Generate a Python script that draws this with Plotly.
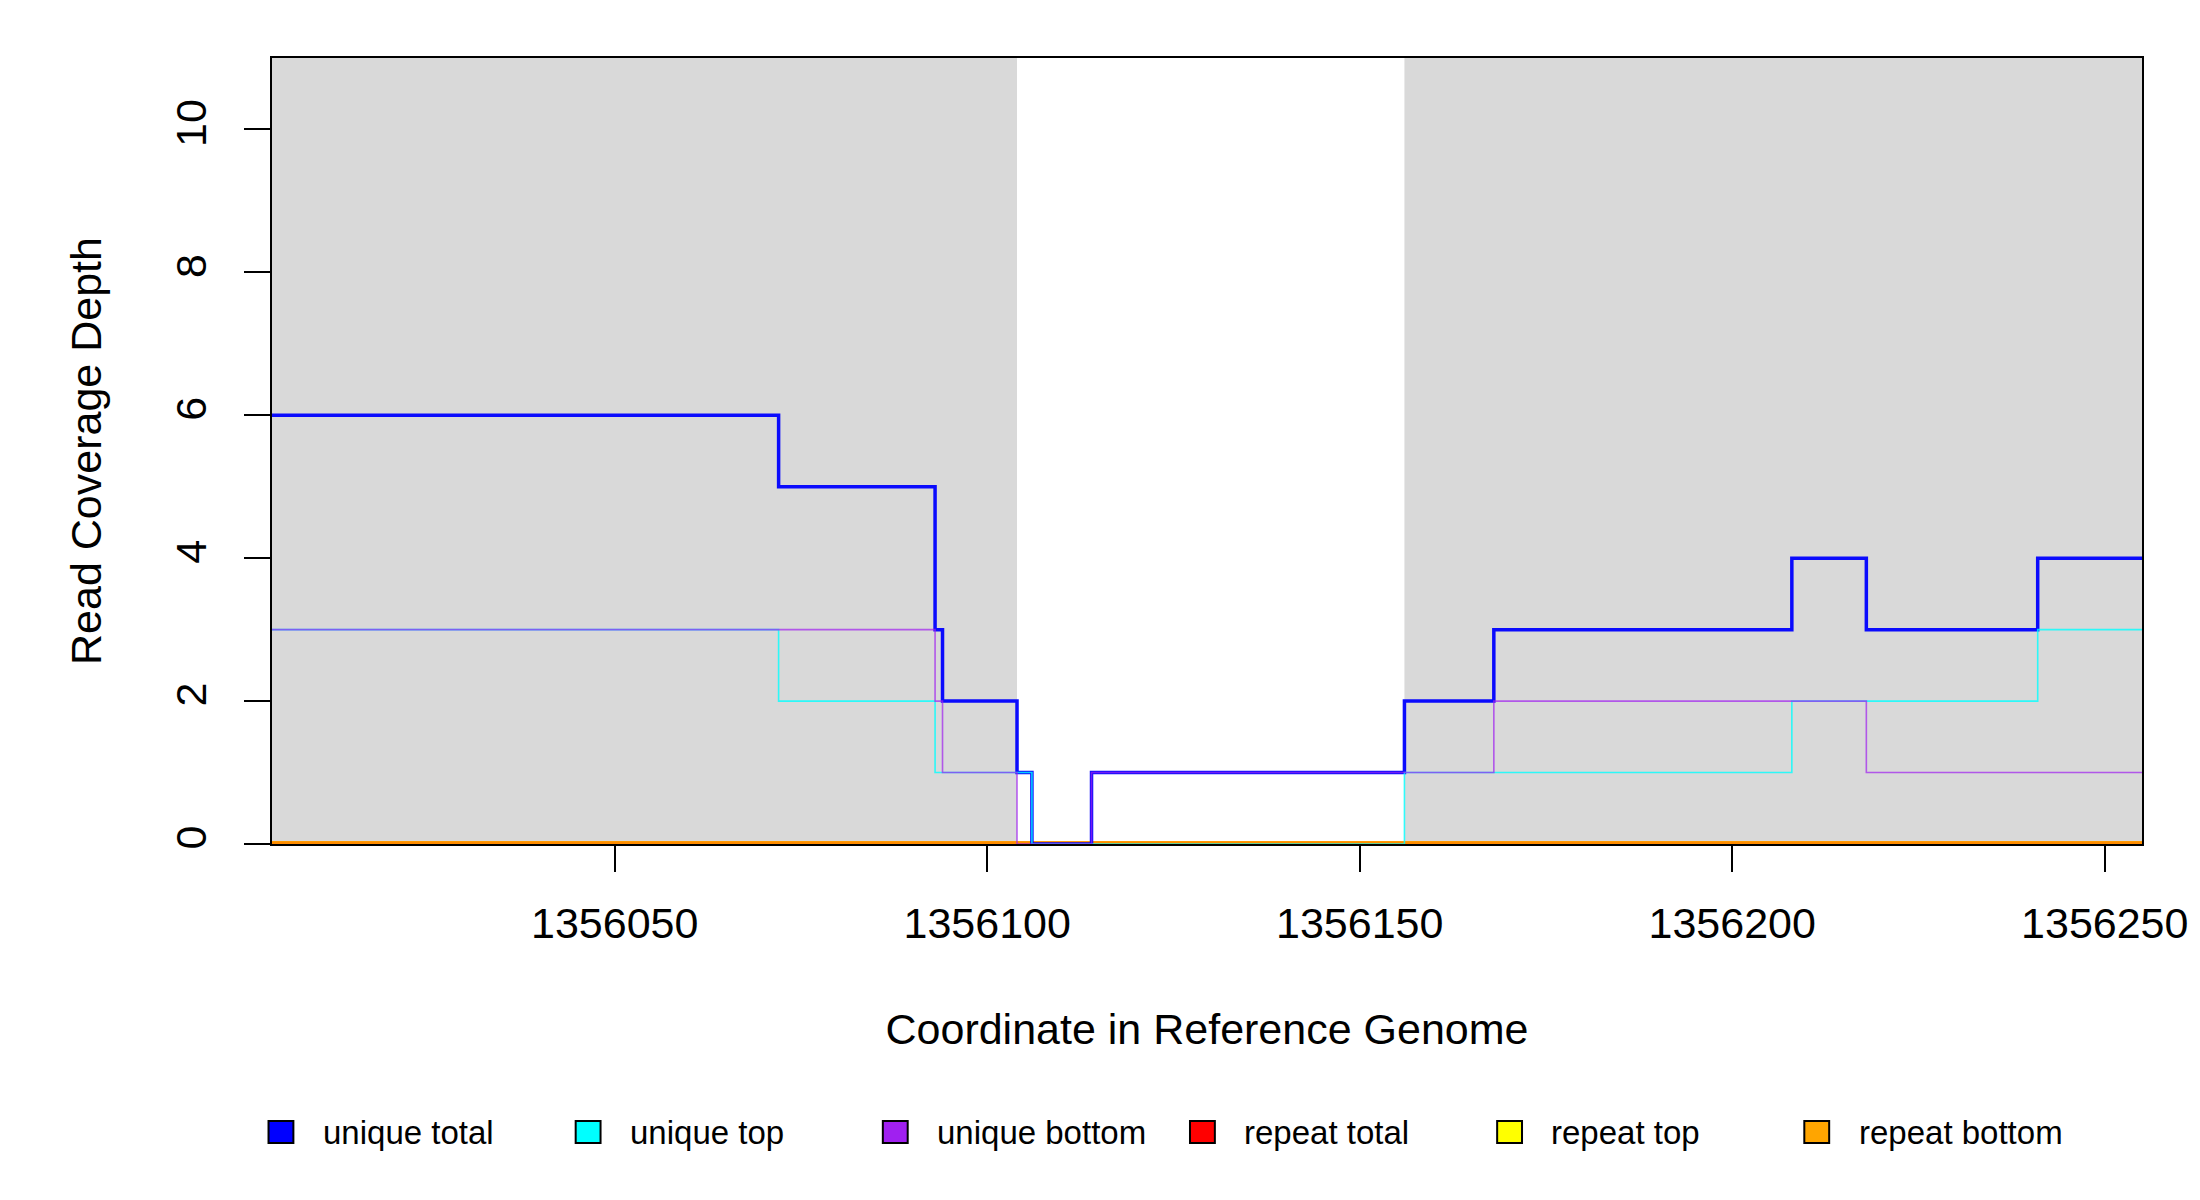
import plotly.graph_objects as go

# coverage steps (position where value starts, value); last point closes the range
pos_unique_total = [1356004, 1356072, 1356093, 1356094, 1356104, 1356106, 1356114,
                    1356156, 1356168, 1356208, 1356218, 1356241, 1356255]
unique_total = [6, 5, 3, 2, 1, 0, 1, 2, 3, 4, 3, 4, 4]

pos_unique_top = [1356004, 1356072, 1356093, 1356106, 1356156, 1356208, 1356241, 1356255]
unique_top = [3, 2, 1, 0, 1, 2, 3, 3]

pos_unique_bottom = [1356004, 1356093, 1356094, 1356104, 1356114, 1356168, 1356218, 1356255]
unique_bottom = [3, 2, 1, 0, 1, 2, 1, 1]

pos_repeat = [1356004, 1356255]
repeat_total = [0, 0]
repeat_top = [0, 0]
repeat_bottom = [0, 0]

# shaded (gray) regions
shade_starts = [1356004, 1356156]
shade_ends = [1356104, 1356255]

x_range = [1356004, 1356255]
y_range = [0, 11]
x_ticks = [1356050, 1356100, 1356150, 1356200, 1356250]
y_ticks = [0, 2, 4, 6, 8, 10]

names = ["unique total", "unique top", "unique bottom", "repeat total", "repeat top", "repeat bottom"]
colors = ["#0000FF", "#00FFFF", "#A020F0", "#FF0000", "#FFFF00", "#FFA500"]
line_colors = ["rgba(0,0,255,0.95)", "rgba(0,255,255,0.8)", "rgba(160,32,240,0.7)",
               "rgba(255,0,0,0.9)", "rgba(255,255,0,0.9)", "rgba(255,140,0,1)"]
widths = [3.5, 1.6, 1.6, 5.5, 5.5, 5.5]

series = [
    (pos_unique_total, unique_total),
    (pos_unique_top, unique_top),
    (pos_unique_bottom, unique_bottom),
    (pos_repeat, repeat_total),
    (pos_repeat, repeat_top),
    (pos_repeat, repeat_bottom),
]

FONT = "Liberation Sans, Arial, sans-serif"
W, H = 2200, 1200
L, R, T, B = 272, 48, 58, 356
pw, ph = W - L - R, H - T - B

fig = go.Figure()
# repeat tracks go underneath, unique tracks on top
draw_order = [3, 4, 5, 0, 1, 2]
for i in draw_order:
    xs, ys = series[i]
    fig.add_trace(go.Scatter(x=xs, y=ys, mode="lines", name=names[i],
                             line=dict(color=line_colors[i], width=widths[i], shape="hv"),
                             showlegend=False, hoverinfo="skip"))

shapes = []
for s, e in zip(shade_starts, shade_ends):
    shapes.append(dict(type="rect", xref="x", yref="paper", x0=s, x1=e, y0=0, y1=1,
                       fillcolor="#D9D9D9", line=dict(width=0), layer="below"))

# legend drawn by hand: boxes + labels along the bottom
annotations = []
leg_y = 1132
for i, (name, c) in enumerate(zip(names, colors)):
    cx = 281 + i * 308.8
    shapes.append(dict(type="rect", xref="paper", yref="paper",
                       x0=(cx - 12.5 - L) / pw, x1=(cx + 12.5 - L) / pw,
                       y0=(H - B - (leg_y + 11)) / ph, y1=(H - B - (leg_y - 11)) / ph,
                       fillcolor=c, line=dict(color="black", width=2)))
    annotations.append(dict(xref="paper", yref="paper", x=(cx + 40 - L) / pw,
                            y=(H - B - leg_y) / ph, text=name, showarrow=False,
                            xanchor="left", yanchor="middle",
                            font=dict(family=FONT, size=33, color="black")))

fig.update_layout(
    width=W, height=H,
    margin=dict(l=L, r=R, t=T, b=B),
    plot_bgcolor="white", paper_bgcolor="white",
    font=dict(family=FONT, color="black"),
    shapes=shapes, annotations=annotations,
    xaxis=dict(range=x_range, tickvals=x_ticks, ticktext=[str(v) for v in x_ticks],
               ticks="outside", ticklen=26, tickwidth=2, tickcolor="black",
               showgrid=False, zeroline=False, showline=True, linecolor="black",
               linewidth=1.5, mirror=True, tickfont=dict(size=43),
               ticklabelstandoff=15,
               title=dict(text="Coordinate in Reference Genome", font=dict(size=43), standoff=68)),
    yaxis=dict(range=y_range, tickvals=y_ticks, ticks="outside", ticklen=26, tickwidth=2,
               tickcolor="black", tickangle=-90, showgrid=False, zeroline=False,
               showline=True, linecolor="black", linewidth=1.5, mirror=True,
               tickfont=dict(size=43), ticklabelstandoff=21,
               title=dict(text="Read Coverage Depth", font=dict(size=43), standoff=52)),
)

fig.write_html("out.html", config={"displayModeBar": False},
               post_script="document.body.style.margin='0';")
